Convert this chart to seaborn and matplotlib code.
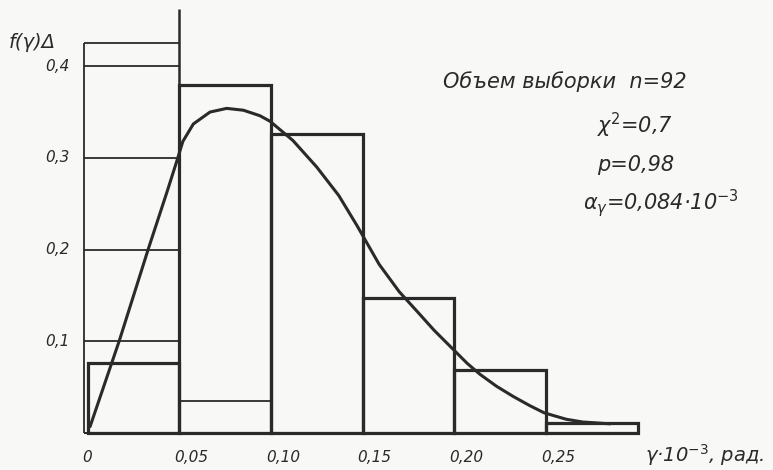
import numpy as np
import pandas as pd
import matplotlib
matplotlib.use("Agg")
import matplotlib.pyplot as plt
import seaborn as sns

# ---- data ----
bin_edges = [0.0, 0.05, 0.10, 0.15, 0.20, 0.25, 0.30]
bar_heights = [0.076, 0.380, 0.326, 0.147, 0.069, 0.011]

curve_x = [0.0014, 0.0174, 0.0332, 0.0432, 0.0483, 0.0520, 0.0577, 0.0668, 0.0759,
           0.085, 0.094, 0.0995, 0.112, 0.125, 0.137, 0.147, 0.159, 0.170, 0.180,
           0.189, 0.198, 0.207, 0.214, 0.223, 0.232, 0.241, 0.249, 0.261, 0.270, 0.285]
curve_y = [0.007, 0.101, 0.201, 0.262, 0.294, 0.318, 0.337, 0.350, 0.354,
           0.352, 0.346, 0.340, 0.319, 0.290, 0.259, 0.226, 0.184, 0.154, 0.132,
           0.112, 0.094, 0.076, 0.064, 0.051, 0.040, 0.030, 0.022, 0.015, 0.012, 0.010]

y_ticks = [0.1, 0.2, 0.3, 0.4]
y_tick_labels = ["0,1", "0,2", "0,3", "0,4"]
x_ticks = [0.0, 0.05, 0.10, 0.15, 0.20, 0.25]
x_tick_labels = ["0", "0,05", "0,10", "0,15", "0,20", "0,25"]
frame_top = 0.425
inner_line = 0.035

annotations = ["Объем выборки  n=92", "χ$^{2}$=0,7", "p=0,98",
               "$\\alpha_{\\gamma}$=0,084·10$^{-3}$"]
x_title = "γ·10$^{-3}$, рад."
y_title = "f(γ)Δ"

# ---- drawing ----
W, H = 773, 470
sns.set_theme(style="white")
plt.rcParams['font.family'] = ['DejaVu Sans']
plt.rcParams['mathtext.fontset'] = 'dejavusans'
plt.rcParams['mathtext.default'] = 'it'

ink = "#2a2a2a"
bg = "#f8f8f6"

fig = plt.figure(figsize=(W / 100, H / 100), dpi=100, facecolor=bg)
ax = fig.add_axes([0, 0, 1, 1])
ax.set_facecolor(bg)

# pixel mapping of the original drawing
x0_px, y0_px, sx, sy = 87.5, 433.0, 1834.0, 917.0
xlim = (-x0_px / sx, (W - x0_px) / sx)
ylim = (-(H - y0_px) / sy, y0_px / sy)

def fp(px, py):
    return px / W, 1 - py / H

# left frame with tick lines
left = -3.5 / sx
ax.hlines(y_ticks + [frame_top], left, bin_edges[1], color=ink, lw=1.3)
ax.vlines(left, 0, frame_top, color=ink, lw=1.3)
# baseline
ax.hlines(0, left, bin_edges[-1], color=ink, lw=1.5)
# vertical axis line at 0.05 extending upward
ax.vlines(bin_edges[1], 0, 0.462, color=ink, lw=1.8)
# thin inner line in second bin
ax.hlines(inner_line, bin_edges[1], bin_edges[2], color=ink, lw=1.3)

centers = [(a + b) / 2 for a, b in zip(bin_edges[:-1], bin_edges[1:])]
hist_df = pd.DataFrame({"x": centers, "w": bar_heights})
sns.histplot(data=hist_df, x="x", weights="w", bins=bin_edges, ax=ax,
             element="bars", fill=False, color=ink, edgecolor=ink, linewidth=2.3)

curve_df = pd.DataFrame({"x": curve_x, "y": curve_y})
sns.lineplot(data=curve_df, x="x", y="y", ax=ax, color=ink, lw=2.2, sort=True)

ax.set_xlim(*xlim)
ax.set_ylim(*ylim)
ax.set_axis_off()

# tick labels
for v, lab in zip(y_ticks, y_tick_labels):
    ax.text(70 / W, 1 - (y0_px - v * sy) / H, lab, transform=fig.transFigure,
            ha="right", va="center", fontsize=11, style="italic", color=ink)
for v, lab in zip(x_ticks, x_tick_labels):
    ax.text((x0_px + v * sx - 5) / W, 1 - 457 / H, lab, transform=fig.transFigure,
            ha="left", va="center", fontsize=11, style="italic", color=ink)

fx, fy = fp(9, 42)
fig.text(fx, fy, y_title, ha="left", va="center", fontsize=14, style="italic", color=ink)
fx, fy = fp(645, 455)
fig.text(fx, fy, x_title, ha="left", va="center", fontsize=14, style="italic", color=ink)

ann_pos = [(443, 82), (597, 125), (597, 165), (583, 203)]
for (px, py), t in zip(ann_pos, annotations):
    fx, fy = fp(px, py)
    fig.text(fx, fy, t, ha="left", va="center", fontsize=15, style="italic", color=ink)

fig.savefig("out.png", dpi=100, facecolor=bg)
